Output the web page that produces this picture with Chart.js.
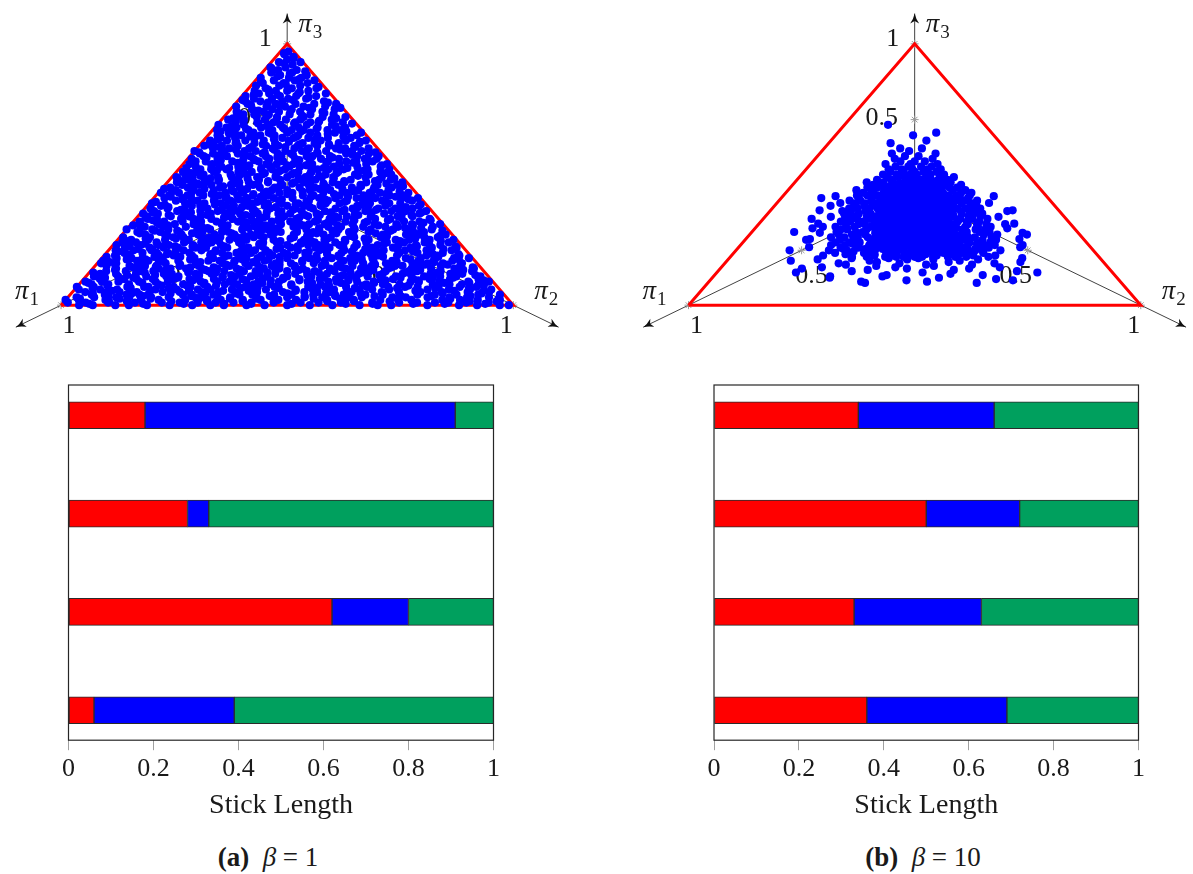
<!DOCTYPE html>
<html>
<head>
<meta charset="utf-8">
<title>Stick-breaking samples</title>
<script src="https://cdn.jsdelivr.net/npm/chart.js@4.4.1/dist/chart.umd.min.js"></script>
<style>
  html, body { margin: 0; padding: 0; background: #fff; }
  body { width: 1193px; height: 874px; position: relative; overflow: hidden;
         font-family: "Liberation Serif", "Times New Roman", serif; color: #1a1a1a; }
  .box { position: absolute; }
  .caption { position: absolute; top: 842px; font-size: 27px; line-height: 30px;
             white-space: nowrap; transform: translateX(-50%); }
</style>
</head>
<body>
<div class="box" style="left:0;top:0;width:596px;height:350px"><canvas id="simplexA"></canvas></div>
<div class="box" style="left:597px;top:0;width:596px;height:350px"><canvas id="simplexB"></canvas></div>
<div class="box" style="left:0;top:370px;width:596px;height:452px"><canvas id="sticksA"></canvas></div>
<div class="box" style="left:597px;top:370px;width:596px;height:452px"><canvas id="sticksB"></canvas></div>
<div class="caption" style="left:268px"><b>(a)</b>&nbsp; <i>β</i> = 1</div>
<div class="caption" style="left:923px"><b>(b)</b>&nbsp; <i>β</i> = 10</div>

<script>
// Samples on the simplex, grouped by rows of equal π3.
// Each row: [π3 in hundredths, then for every sample the share (in hundredths)
// of the remaining mass 1 - π3 that goes to π1; π2 gets the rest].
const rowsBetaOne = [
  [0, 3,71,45,88,12,59,34,96,27,64,8,50,81,19,40,93,67,30,55,76,1,85],
  [1, 47,14,90,62,25,78,5,38,99,53,70,21,84,10,43,66,31,95,58,17,74],
  [2, 29,86,52,7,68,41,97,15,60,83,35,2,73,48,91,22,56,79,11,37,65,100],
  [3, 18,63,89,33,4,77,50,26,94,69,13,42,86,57,9,81,36,71,23,98,46],
  [4, 61,6,39,82,28,74,53,16,92,44,67,1,87,32,58,20,95,72,11,49,84,37],
  [5, 24,79,51,97,8,66,35,89,14,43,70,57,3,92,28,62,85,19,46,75,40],
  [6, 55,12,87,33,71,2,48,94,26,63,17,81,39,99,58,7,76,44,30,68,90],
  [7, 36,83,9,60,22,77,45,96,14,53,88,31,69,5,41,73,19,100,57,84,26],
  [8, 15,70,42,93,27,58,4,81,36,65,11,49,88,23,75,54,97,31,62,8],
  [9, 52,18,79,38,95,6,64,29,86,45,13,71,57,33,91,20,67,1,82,40,99],
  [10, 27,74,47,90,10,61,35,83,19,56,3,78,42,96,24,68,51,15,87,38],
  [11, 63,8,44,85,30,72,16,55,98,37,80,2,50,23,92,66,12,77,41,59],
  [12, 21,69,48,93,6,34,81,57,14,88,40,73,26,62,97,9,53,79,32],
  [13, 45,91,17,66,38,84,3,58,25,75,50,11,96,34,70,19,87,43,61,29],
  [14, 7,56,83,31,72,18,94,46,63,2,39,80,24,68,89,13,52,35,76],
  [15, 60,22,87,41,10,73,54,33,97,16,65,84,28,48,5,91,37,78,20],
  [16, 49,82,13,67,36,95,24,58,4,74,43,88,17,61,30,99,53,9],
  [17, 71,27,40,90,15,56,83,6,64,35,99,46,11,79,22,52,87,32,68],
  [18, 18,63,92,38,75,5,50,84,27,58,96,14,44,70,33,89,1,61],
  [19, 85,31,57,9,76,42,97,20,66,48,12,81,36,93,54,25,71,3],
  [20, 39,68,14,90,51,26,83,7,60,35,77,19,95,45,64,29,86,55],
  [21, 11,47,79,23,62,98,34,70,4,56,88,17,41,74,28,93,59],
  [22, 67,20,85,42,9,73,52,31,96,15,61,38,81,2,49,89,26,76],
  [23, 35,58,92,13,69,44,84,24,6,77,50,99,30,63,18,87,41],
  [24, 80,3,53,27,72,46,94,16,64,36,88,10,57,21,75,42,98],
  [25, 26,62,8,86,45,71,33,96,18,54,79,1,39,67,91,14],
  [26, 57,91,22,73,37,5,84,48,65,13,99,30,60,81,44,9,70],
  [27, 43,14,77,55,30,93,66,2,87,39,21,61,82,48,10,72],
  [28, 19,68,35,89,52,8,76,42,96,25,59,83,13,47,70,31],
  [29, 64,5,92,40,24,78,53,17,87,34,100,56,11,74,44,29],
  [30, 82,37,15,63,48,95,26,70,4,55,89,33,77,19,60],
  [31, 46,10,71,29,86,52,38,97,1,64,22,80,43,59,15,91],
  [32, 73,31,55,12,84,41,66,24,98,7,49,78,35,61,90],
  [33, 28,59,93,47,16,75,36,85,3,68,21,52,96,40,81],
  [34, 51,8,79,34,62,22,89,43,70,13,97,57,30,83],
  [35, 17,66,40,94,53,27,76,5,60,85,35,49,11,71,99],
  [36, 88,45,23,61,9,74,37,96,52,14,80,31,67,2],
  [37, 33,70,56,18,92,41,78,6,62,27,86,47,98,12],
  [38, 64,25,84,50,3,72,38,95,15,58,81,44,21,69],
  [39, 9,57,31,87,46,74,20,99,63,36,80,13,52],
  [40, 77,42,15,66,28,91,53,4,83,35,71,22,60],
  [41, 48,86,24,59,7,73,38,96,17,65,32,89,55,1],
  [42, 69,11,44,82,30,95,57,21,76,40,63,6,88],
  [43, 36,74,18,53,92,27,67,48,3,84,59,14,99],
  [44, 56,22,87,41,68,10,79,33,94,50,16,72],
  [45, 8,61,34,90,45,77,24,55,97,15,69,39],
  [46, 81,29,52,13,73,41,93,5,64,35,86,20],
  [47, 43,70,17,96,58,26,84,47,2,66,31,89],
  [48, 62,11,38,79,53,92,23,71,45,6,85],
  [49, 30,91,55,16,74,42,98,9,63,35,80,50],
  [50, 75,20,48,87,33,61,4,95,40,68,14],
  [51, 54,8,83,27,66,39,97,18,72,45,91],
  [52, 13,62,36,90,51,24,78,3,57,85,31],
  [53, 69,44,17,93,58,28,81,6,49,73],
  [54, 38,86,12,60,97,25,71,47,2,83,55],
  [55, 90,21,64,39,77,8,52,30,95,16],
  [56, 46,72,11,85,33,59,98,24,67,5],
  [57, 28,81,53,14,69,40,93,61,3,37],
  [58, 76,19,48,89,34,63,7,55,96],
  [59, 42,67,15,84,29,100,51,73,10],
  [60, 58,23,91,38,71,5,46,82,18],
  [61, 87,33,62,12,78,44,97,26,55],
  [62, 20,69,41,93,8,57,80,34],
  [63, 64,15,86,49,30,75,3,96],
  [64, 37,82,53,11,70,25,91,46],
  [65, 6,58,79,31,94,43,67],
  [66, 72,19,50,88,35,62,2,84],
  [67, 47,14,76,39,97,23,60],
  [68, 29,85,53,10,68,42,92],
  [69, 63,18,81,36,55,99],
  [70, 9,44,72,27,88,60,33],
  [71, 51,83,16,67,40,95],
  [72, 74,22,58,4,90,37],
  [73, 31,65,12,86,48,77],
  [74, 57,20,93,39,70],
  [75, 8,46,81,28,63],
  [76, 69,35,97,15,52],
  [77, 42,88,24,61,3],
  [78, 77,13,55,92],
  [79, 30,66,49,85],
  [80, 18,58,96,40],
  [81, 71,5,37,83],
  [82, 50,90,24,64],
  [83, 12,44,78],
  [84, 61,32,93],
  [85, 86,20,55],
  [86, 38,71,7],
  [87, 95,47,26],
  [88, 63,14],
  [89, 82,40],
  [90, 29,70],
  [91, 54,91],
  [92, 35],
  [93, 76,8],
  [94, 50],
  [95, 22],
  [96, 66],
  [97, 41],
  [0.5, 58,22,94,37,6,73,49,15,82,64,31],
  [1.5, 9,76,41,68,27,90,53,3,35,86,60],
  [2.5, 44,13,81,57,25,97,70,38,2,63,88],
  [3.5, 72,30,54,91,17,46,83,8,66,39,24],
  [4.5, 5,62,28,77,50,14,95,41,69,33,86],
  [5.5, 91,36,59,20,73,4,48,82,11,65],
  [6.5, 24,78,43,96,15,61,34,87,52,7],
  [7.5, 67,3,49,80,32,59,21,93,40,74],
  [8.5, 12,85,56,29,70,44,98,6,63,37],
  [9.5, 79,47,18,91,35,60,2,73,26,54],
  [10.5, 33,66,9,88,51,22,77,41,95,14],
  [11.5, 58,90,27,45,72,3,64,36,83,19],
  [12.5, 7,42,75,20,99,55,31,68,12,86],
  [13.5, 81,28,53,94,16,62,39,5,71,47],
  [14.5, 36,69,2,57,84,23,48,90,30,75],
  [15.5, 52,14,89,40,66,8,78,27,95],
  [16.5, 21,73,46,97,33,59,11,84,64],
  [17.5, 88,4,55,30,76,42,93,17,62],
  [18.5, 45,79,24,67,9,52,86,36,99],
  [19.5, 10,62,39,83,27,71,50,3,94],
  [20.5, 70,32,97,15,56,44,81,25,63],
  [21.5, 28,88,53,6,74,40,19,92,61],
  [22.5, 95,47,13,68,34,82,57,2,77],
  [23.5, 39,73,22,58,91,9,46,85,30],
  [24.5, 64,17,80,43,5,70,33,97,52],
  [25.5, 12,49,92,27,65,83,38,74],
  [26.5, 86,31,58,4,76,44,20,63],
  [27.5, 23,67,41,95,11,54,79,35],
  [28.5, 58,2,84,36,70,18,47,91],
  [29.5, 75,40,13,62,96,29,53,8],
  [30.5, 34,88,57,21,69,45,99,10],
  [31.5, 63,25,79,6,48,92,37,71],
  [32.5, 17,53,94,40,80,28,65,3],
  [33.5, 46,85,12,71,33,58,97],
  [34.5, 90,26,64,8,44,77,39],
  [35.5, 21,57,83,35,96,4,69],
  [36.5, 73,11,48,87,30,62,19],
  [37.5, 54,92,25,66,42,8,80],
  [38.5, 2,38,76,57,94,23,47],
  [39.5, 85,29,61,14,70,43,98],
  [40.5, 36,68,5,52,89,20,77],
  [41.5, 60,18,94,41,27,73,9],
  [42.5, 32,79,50,12,87,63],
  [43.5, 71,24,95,44,6,58],
  [44.5, 15,83,37,66,99,28],
  [45.5, 53,3,76,41,89,20],
  [46.5, 87,35,62,9,48,72],
  [47.5, 26,58,94,40,13,79],
  [48.5, 67,4,45,83,30,97],
  [49.5, 19,55,88,36,71],
  [50.5, 60,28,93,6,47],
  [51.5, 82,39,15,70,53],
  [52.5, 33,97,62,22,77],
  [53.5, 5,50,86,41,68],
  [54.5, 74,18,59,95,31],
  [55.5, 44,83,10,66],
  [56.5, 91,27,55,38],
  [57.5, 16,72,47,85],
  [58.5, 62,3,34,97],
  [59.5, 39,78,21,57],
  [60.5, 88,12,51,70],
  [61.5, 26,64,95,43],
  [62.5, 7,49,80],
  [63.5, 58,33,92],
  [64.5, 73,15,44],
  [65.5, 24,87,60],
  [66.5, 94,41,11],
  [67.5, 52,78,30],
  [68.5, 16,64,89],
  [69.5, 45,3,71],
  [70.5, 83,26],
  [71.5, 12,58,92],
  [72.5, 66,38],
  [73.5, 91,19],
  [74.5, 47,75],
  [75.5, 30,2],
  [76.5, 84,57],
  [77.5, 10,69],
  [78.5, 44,96],
  [79.5, 27],
  [80.5, 61,88],
  [81.5, 35],
  [82.5, 74],
  [83.5, 8],
  [84.5, 52],
  [85.5, 90],
  [86.5, 30],
  [87.5, 67],
  [88.5, 45],
  [89.5, 12],
  [90.5, 86],
  [92.5, 58],
  [94.5, 24],
  [96.5, 70]
];

const rowsBetaTen = [
  [8.5, 35,62],
  [9, 47,63],
  [9.5, 52,26],
  [10, 30],
  [10.5, 71,44],
  [11, 58,71],
  [11.5, 33,57],
  [12, 41],
  [12.5, 80,48,19],
  [13, 66,24],
  [13.5, 40,62],
  [14, 52,36,79],
  [14.5, 28,55,74],
  [15, 45,60],
  [15.5, 47,68,35],
  [16, 29,70,54],
  [16.5, 60,22,41],
  [17, 38,83,62],
  [17.5, 52,76,33,45],
  [18, 49,21,67,57],
  [18.5, 45,58,36,63,50,41,55,30,67,48,53,39],
  [19, 34,61,44,75,52,28,56],
  [19.5, 52,40,61,47,34,57,44,69,50,38,63,55],
  [20, 42,68,31,55,72,47,37,64,50],
  [20.5, 43,56,49,35,62,46,53,40,67,58,31,51],
  [21, 58,26,46,69,39,62,33,53,74,44,85],
  [21.5, 59,38,50,45,64,33,55,42,61,48,70,36],
  [22, 36,51,66,29,57,43,71,48,61,32,54,40],
  [22.2, 80,20],
  [22.5, 47,54,39,60,44,66,51,35,57,42,63,49],
  [23, 63,45,30,55,70,38,49,59,27,67,42,52,74,19],
  [23.5, 53,41,58,46,37,62,50,44,68,55,32,48],
  [24, 48,34,61,41,73,53,28,57,66,37,45,69,31,51],
  [24.5, 44,52,39,58,48,61,42,55],
  [25, 55,39,68,46,26,60,35,50,72,43,63,30,57,47,82],
  [25.3, 81,19],
  [25.5, 50,41,57,46,62,37,53,45],
  [26, 32,59,44,71,52,37,64,27,49,56,40,67,34,75,47],
  [26.5, 47,59,40,54,43,60,50,36],
  [27, 61,42,29,54,69,36,48,58,25,65,45,38,73,52,16],
  [27.5, 55,45,62,38,51,42,58,48],
  [27.7, 79,17],
  [28, 47,66,34,57,41,74,50,30,62,44,55,27,68,39,87],
  [28.5, 41,53,47,60,44,56,39,50],
  [29, 38,53,71,28,60,45,35,65,49,56,31,73,43,58],
  [29.4, 82,21],
  [29.5, 58,43,51,37,62,48,54,45],
  [30, 64,30,50,42,75,55,37,61,26,47,69,34,58,45,79],
  [30.5, 46,56,40,52,59,43,49,38],
  [31, 44,59,33,68,48,27,63,52,38,72,41,56,30,66,21],
  [31.2, 81,18],
  [31.5, 53,39,61,47,44,57,50,42],
  [32, 56,36,71,43,62,29,50,67,40,54,33,74,47,60],
  [32.5, 42,55,48,60,36,51,45,58],
  [33, 31,65,48,57,39,73,45,26,61,52,35,69,42,55,84],
  [33.5, 57,46,52,40,63,44,54,49],
  [33.8, 78,22],
  [34, 60,41,28,66,50,37,72,46,58,32,63,44,54,70],
  [34.5, 45,60,38,53,47,56,41,51],
  [35, 37,53,69,43,30,62,48,74,56,40,27,65,51,34,59],
  [35.5, 52,43,58,47,39,61,50,44],
  [36, 49,72,34,58,45,67,29,53,39,61,42,75,55,31,18],
  [36.3, 83,16],
  [36.5, 40,54,46,62,50,37,57,48],
  [37, 63,38,52,27,70,46,57,35,66,43,60,49,32,73],
  [37.5, 59,45,51,41,55,48,62,43],
  [38, 41,59,30,54,65,37,48,71,44,62,28,56,51,68,80],
  [38.5, 47,57,39,52,44,60,50,54],
  [39, 57,33,68,47,39,61,52,29,72,43,55,36,64,49],
  [39.1, 77,23],
  [39.5, 54,42,61,48,37,56,45,51],
  [40, 35,62,45,70,53,31,58,41,66,48,27,60,38,74],
  [40.5, 43,58,50,40,53,46,62,47],
  [41, 66,42,55,30,61,47,36,71,51,39,63,57,44,33,85],
  [41.5, 56,47,41,59,51,44,54,38],
  [41.7, 80,20],
  [42, 48,59,37,68,43,54,29,64,40,57,50,72,34],
  [42.5, 48,61,45,53,40,57,50],
  [43, 53,39,62,45,70,32,57,48,66,41,28,60,51],
  [43.5, 52,42,58,47,55,44,60],
  [44, 40,67,49,35,58,44,73,54,30,62,46,56],
  [44.5, 46,55,40,51,58,43],
  [45, 61,36,52,69,43,57,33,48,65,39,55],
  [45.5, 53,45,60,49,42],
  [46, 45,58,38,64,50,31,67,42,55,47],
  [46.5, 48,56,41,52],
  [47, 54,41,63,35,49,59,44,70,38],
  [48, 47,60,36,53,43,66,50,40],
  [49, 57,39,51,62,45,33,54],
  [50, 43,58,49,37,64,52],
  [51, 50,40,61,46,55],
  [52, 56,44,51,38,62],
  [53, 47,59,42,53],
  [54, 52,39,64],
  [55, 45,57,50],
  [56, 60,41],
  [57, 48,55],
  [58, 39,62],
  [59, 53],
  [60, 46,58],
  [62, 64],
  [63, 43],
  [65, 51],
  [66, 36],
  [69, 69]
];

// Stick-breaking lengths of four sticks, one value per piece
const sticks = [1, 2, 3, 4];
const redBetaOne = [0.18, 0.28, 0.62, 0.06];
const blueBetaOne = [0.73, 0.05, 0.18, 0.33];
const greenBetaOne = [0.09, 0.67, 0.20, 0.61];
const redBetaTen = [0.34, 0.50, 0.33, 0.36];
const blueBetaTen = [0.32, 0.22, 0.30, 0.33];
const greenBetaTen = [0.34, 0.28, 0.37, 0.31];
const lengthTicks = [0, 0.2, 0.4, 0.6, 0.8, 1];

// Tick positions along each π axis and the axis subscripts
const axisTicks = [0.5, 1];
const axisNames = ['1', '2', '3'];
const axisEnd = 1.2;

// --- view of the 3-D axes: screen step (x right, y up) of one unit along π1, π2, π3
const axisDirs = [[-230, -113], [230, -113], [0, 156]];
const FONT = '"Liberation Serif", "Times New Roman", serif';
const TEXT = '#1a1a1a';

// label offsets in pixels: [π1, π2, π3]
const tickLabelOffset = { 0.5: [[10, 26], [-12, 26], [-33, -1]], 1: [[8, 21], [-7, 21], [-22, -5]] };
const nameOffset = [[-34, -10], [33, -10], [23, -16]];

function project(p) {
  return {
    x: p[0] * axisDirs[0][0] + p[1] * axisDirs[1][0] + p[2] * axisDirs[2][0],
    y: p[0] * axisDirs[0][1] + p[1] * axisDirs[1][1] + p[2] * axisDirs[2][1]
  };
}

function onAxis(k, t) {
  const p = [0, 0, 0];
  p[k] = t;
  return project(p);
}

function rowsToPoints(rows) {
  const pts = [];
  rows.forEach(([h, ...shares]) => {
    const p3 = h / 100;
    shares.forEach(s => {
      const p1 = (1 - p3) * s / 100;
      pts.push(project([p1, 1 - p3 - p1, p3]));
    });
  });
  return pts;
}

function drawPi(ctx, sub, cx, cy) {
  ctx.font = `italic 27px ${FONT}`;
  const w1 = ctx.measureText('π').width;
  ctx.font = `19px ${FONT}`;
  const w2 = ctx.measureText(sub).width;
  const left = cx - (w1 + w2 + 1) / 2;
  ctx.textAlign = 'left';
  ctx.font = `italic 27px ${FONT}`;
  ctx.fillText('π', left, cy - 3);
  ctx.font = `19px ${FONT}`;
  ctx.fillText(sub, left + w1 + 1, cy + 5);
  ctx.textAlign = 'center';
}

// tick labels and axis names, drawn under the samples
const simplexText = {
  id: 'simplexText',
  beforeDatasetsDraw(chart) {
    const { ctx, scales: { x, y } } = chart;
    ctx.save();
    ctx.fillStyle = TEXT;
    ctx.textAlign = 'center';
    ctx.textBaseline = 'middle';
    for (let k = 0; k < 3; k++) {
      axisTicks.forEach(t => {
        const q = onAxis(k, t);
        const [dx, dy] = tickLabelOffset[t][k];
        ctx.font = `26px ${FONT}`;
        ctx.fillText(String(t), x.getPixelForValue(q.x) + dx, y.getPixelForValue(q.y) + dy);
      });
      const v = onAxis(k, 1);
      const [dx, dy] = nameOffset[k];
      drawPi(ctx, axisNames[k], x.getPixelForValue(v.x) + dx, y.getPixelForValue(v.y) + dy);
    }
    ctx.restore();
  }
};

// arrow heads at the far end of the axis lines
const axisArrows = {
  id: 'axisArrows',
  afterDatasetsDraw(chart) {
    const ctx = chart.ctx;
    chart.data.datasets.forEach((ds, i) => {
      if (!ds.arrow) return;
      const pts = chart.getDatasetMeta(i).data;
      const a = pts[pts.length - 2], b = pts[pts.length - 1];
      ctx.save();
      ctx.translate(b.x, b.y);
      ctx.rotate(Math.atan2(b.y - a.y, b.x - a.x));
      ctx.beginPath();
      ctx.moveTo(0, 0);
      ctx.quadraticCurveTo(-5, -1, -10, -4.5);
      ctx.lineTo(-7.5, 0);
      ctx.lineTo(-10, 4.5);
      ctx.quadraticCurveTo(-5, 1, 0, 0);
      ctx.fillStyle = '#111';
      ctx.fill();
      ctx.restore();
    });
  }
};

function simplexChart(id, rows, originX, originY, width, height) {
  const corners = [onAxis(0, 1), onAxis(1, 1), onAxis(2, 1), onAxis(0, 1)];
  const tickMarks = [];
  for (let k = 0; k < 3; k++) axisTicks.forEach(t => tickMarks.push(onAxis(k, t)));
  const axes = [0, 1, 2].map(k => ({
    data: [onAxis(k, 0), onAxis(k, axisEnd)],
    showLine: true,
    borderColor: '#111',
    borderWidth: 0.8,
    pointRadius: 0,
    order: 3,
    arrow: true
  }));

  return new Chart(document.getElementById(id), {
    type: 'scatter',
    data: {
      datasets: [
        {
          data: rowsToPoints(rows),
          backgroundColor: '#0000ff',
          borderWidth: 0,
          pointRadius: 4.1,
          order: 0
        },
        {
          data: corners,
          showLine: true,
          borderColor: '#ff0000',
          borderWidth: 3,
          borderJoinStyle: 'miter',
          pointRadius: 0,
          order: 1
        },
        {
          data: tickMarks,
          pointStyle: 'star',
          pointRadius: 4,
          pointBorderColor: '#9a9a9a',
          pointBorderWidth: 1,
          order: 2
        },
        ...axes
      ]
    },
    options: {
      responsive: true,
      maintainAspectRatio: false,
      animation: false,
      events: [],
      layout: { padding: 0 },
      plugins: { legend: { display: false }, tooltip: { enabled: false } },
      scales: {
        x: { type: 'linear', display: false, min: -originX, max: width - originX },
        y: { type: 'linear', display: false, min: originY - height, max: originY }
      }
    },
    plugins: [simplexText, axisArrows]
  });
}

// black box round the plot area
const plotFrame = {
  id: 'plotFrame',
  afterDatasetsDraw(chart) {
    const { ctx, chartArea: a } = chart;
    ctx.save();
    ctx.strokeStyle = '#262626';
    ctx.lineWidth = 1.2;
    ctx.strokeRect(a.left, a.top, a.right - a.left, a.bottom - a.top);
    ctx.restore();
  }
};

function stickChart(id, red, blue, green, padLeft, padRight) {
  const pieces = [['π1', red, '#ff0000'], ['π2', blue, '#0000ff'], ['π3', green, '#00a05e']];
  return new Chart(document.getElementById(id), {
    type: 'bar',
    data: {
      datasets: pieces.map(([label, vals, color]) => ({
        label,
        data: vals.map((v, i) => ({ x: v, y: sticks[i] })),
        backgroundColor: color,
        borderColor: '#2b2b2b',
        borderWidth: 1,
        borderSkipped: false,
        barThickness: 27
      }))
    },
    options: {
      indexAxis: 'y',
      responsive: true,
      maintainAspectRatio: false,
      animation: false,
      events: [],
      layout: { padding: { left: padLeft, right: padRight, top: 15, bottom: 0 } },
      plugins: { legend: { display: false }, tooltip: { enabled: false } },
      scales: {
        x: {
          type: 'linear',
          stacked: true,
          min: 0,
          max: 1,
          afterBuildTicks: s => { s.ticks = lengthTicks.map(v => ({ value: v })); },
          ticks: {
            color: TEXT,
            padding: 3,
            maxRotation: 0,
            font: { family: FONT, size: 26 },
            callback: v => String(+v.toFixed(1))
          },
          grid: { drawOnChartArea: false, tickLength: 10, color: '#a0a0a0', lineWidth: 1 },
          border: { display: false },
          title: {
            display: true,
            text: 'Stick Length',
            color: TEXT,
            font: { family: FONT, size: 28 },
            padding: { top: 1, bottom: 0 }
          }
        },
        y: {
          type: 'linear', stacked: true, display: false, reverse: true, offset: false,
          min: 0.692, max: 4.305
        }
      }
    },
    plugins: [plotFrame]
  });
}

simplexChart('simplexA', rowsBetaOne, 287, 196, 596, 350);
simplexChart('simplexB', rowsBetaTen, 318, 196, 596, 350);
stickChart('sticksA', redBetaOne, blueBetaOne, greenBetaOne, 68.5, 102.5);
stickChart('sticksB', redBetaTen, blueBetaTen, greenBetaTen, 117, 54.5);
</script>
</body>
</html>
